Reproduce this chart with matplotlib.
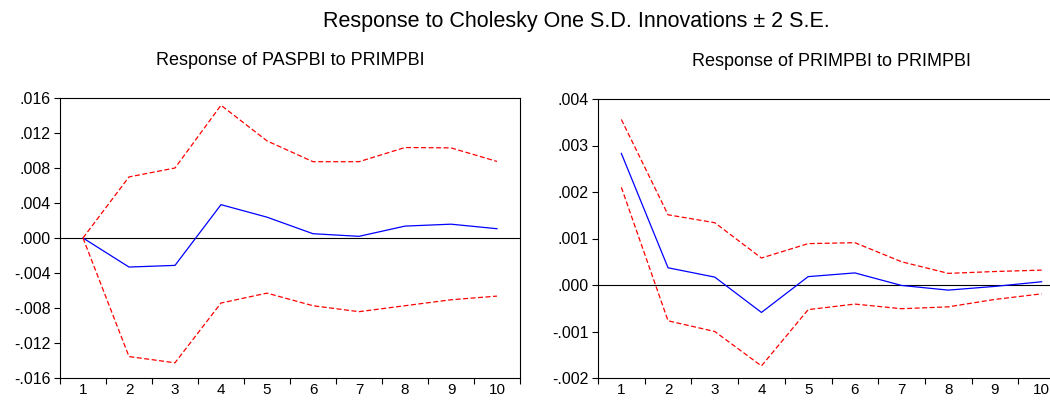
import numpy as np
import matplotlib.pyplot as plt

plt.rcParams['font.family'] = ['Liberation Sans', 'DejaVu Sans']

# periodos
periodos = np.arange(1, 11)

# Response of PASPBI to PRIMPBI
pas_resp = [0.0, -0.00332, -0.00313, 0.00381, 0.00238, 0.00049, 0.00019, 0.00136, 0.00158, 0.00106]
pas_sup = [0.0, 0.00698, 0.0080, 0.01517, 0.0111, 0.00872, 0.00872, 0.01034, 0.0103, 0.00875]
pas_inf = [0.0, -0.01355, -0.01426, -0.00743, -0.0063, -0.00774, -0.00842, -0.00774, -0.00706, -0.00664]

# Response of PRIMPBI to PRIMPBI
prim_resp = [0.00283, 0.00037, 0.00017, -0.00059, 0.00018, 0.00026, -0.00001, -0.00011, -0.00003, 0.00007]
prim_sup = [0.00356, 0.00151, 0.00134, 0.00058, 0.00089, 0.00091, 0.0005, 0.00025, 0.00029, 0.00032]
prim_inf = [0.0021, -0.00077, -0.001, -0.00174, -0.00053, -0.00041, -0.00051, -0.00047, -0.00031, -0.00019]

pas_ticks = [-0.016, -0.012, -0.008, -0.004, 0.0, 0.004, 0.008, 0.012, 0.016]
prim_ticks = [-0.002, -0.001, 0.0, 0.001, 0.002, 0.003, 0.004]


def fmt(v):
    s = "%.3f" % v
    return s.replace("0.", ".", 1)


def painel(ax, resp, sup, inf, yticks, titulo):
    ax.plot(periodos, resp, color='blue', lw=0.9)
    ax.plot(periodos, sup, color='red', lw=0.9, ls=(0, (4, 2)))
    ax.plot(periodos, inf, color='red', lw=0.9, ls=(0, (4, 2)))
    ax.axhline(0, color='black', lw=0.8, zorder=0)
    ax.set_xlim(0.5, 10.5)
    ax.set_ylim(yticks[0], yticks[-1])
    ax.set_yticks(yticks)
    ax.set_yticklabels([fmt(v) for v in yticks], fontsize=11.5)
    ax.set_xticks(np.arange(0.5, 11, 1))
    ax.set_xticklabels([])
    ax.set_xticks(periodos, minor=True)
    ax.set_xticklabels([str(p) for p in periodos], minor=True, fontsize=11)
    ax.tick_params(axis='x', which='minor', length=0, pad=3.5)
    ax.tick_params(axis='both', which='major', direction='out', length=4.5, width=0.8, pad=2)
    for s in ax.spines.values():
        s.set_linewidth(0.8)
    ax.set_title(titulo, fontsize=13, pad=24)


fig = plt.figure(figsize=(10.5, 4), dpi=100)
ax1 = fig.add_axes([60/1050, 1 - 378/400, 460/1050, 280/400])
ax2 = fig.add_axes([598/1050, 1 - 378/400, 467/1050, 279/400])

painel(ax1, pas_resp, pas_sup, pas_inf, pas_ticks, "Response of PASPBI to PRIMPBI")
painel(ax2, prim_resp, prim_sup, prim_inf, prim_ticks, "Response of PRIMPBI to PRIMPBI")

fig.text(576/1050, 1 - 22/400, "Response to Cholesky One S.D. Innovations \u00b1 2 S.E.",
         ha='center', va='center', fontsize=15.5)

fig.savefig("out.png", dpi=100)
